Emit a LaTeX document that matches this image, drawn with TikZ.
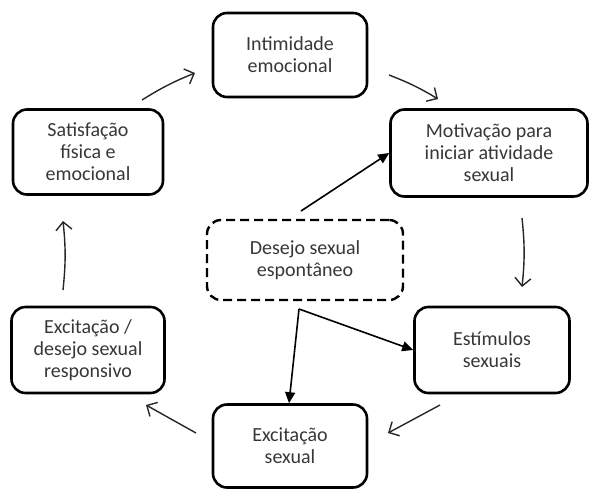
\documentclass[tikz,border=0pt]{standalone}
\usepackage{fontspec}
\setmainfont{Carlito}
\usetikzlibrary{arrows.meta}
\definecolor{txt}{RGB}{55,55,55}
\begin{document}
\begin{tikzpicture}[x=1pt,y=-1pt,
  box/.style={draw=black, line width=2.6pt, rounded corners=14pt, align=center,
    text=txt, font=\fontsize{20}{22}\selectfont, inner sep=0pt},
  dbox/.style={box, line width=2.4pt, dash pattern=on 9pt off 5pt},
  cyc/.style={line width=1.4pt, draw=black!85, -{Straight Barb[length=8pt,width=16pt,line width=1.4pt]}},
  des/.style={line width=1.6pt, draw=black, -{Triangle[length=11pt,width=10pt]}}]
\useasboundingbox (0,0) rectangle (589,491);
\node[box, minimum width=154pt, minimum height=84pt] (intim) at (290,55) {Intimidade\\emocional};
\node[box, minimum width=197pt, minimum height=87pt] (motiv) at (489,153) {Motivação para\\iniciar atividade\\sexual};
\node[dbox, minimum width=196pt, minimum height=80pt] (desejo) at (305,260) {Desejo sexual\\espontâneo};
\node[box, minimum width=150pt, minimum height=85pt] (satis) at (88,152) {Satisfação\\física e\\emocional};
\node[box, minimum width=153pt, minimum height=86pt] (excdes) at (88,350) {Excitação /\\desejo sexual\\responsivo};
\node[box, minimum width=154pt, minimum height=83pt] (excsex) at (290,446) {Excitação\\sexual};
\node[box, minimum width=155pt, minimum height=86pt] (estim) at (492,350) {Estímulos\\sexuais};
% cycle connector end points
\coordinate (a1) at (142,100); \coordinate (a2) at (195,73);
\coordinate (b1) at (389,75);  \coordinate (b2) at (438,99);
\coordinate (c1) at (522,218); \coordinate (c2) at (522,287);
\coordinate (d1) at (440,405); \coordinate (d2) at (388,433);
\coordinate (e1) at (196,433); \coordinate (e2) at (146,405);
\coordinate (f1) at (63,290);  \coordinate (f2) at (63,221);
\coordinate (g1) at (301,211);
\coordinate (h1) at (299,309);
\draw[cyc] (a1) to[bend left=5] (a2);
\draw[cyc] (b1) to[bend left=5] (b2);
\draw[cyc] (c1) to[bend left=6] (c2);
\draw[cyc] (d1) -- (d2);
\draw[cyc] (e1) -- (e2);
\draw[cyc] (f1) to[bend right=6] (f2);
% desire connectors
\draw[des] (g1) -- (motiv.west);
\draw[des] (h1) -- (estim.west);
\draw[des] (h1) -- (excsex.north -| 289,0);
\end{tikzpicture}
\end{document}
